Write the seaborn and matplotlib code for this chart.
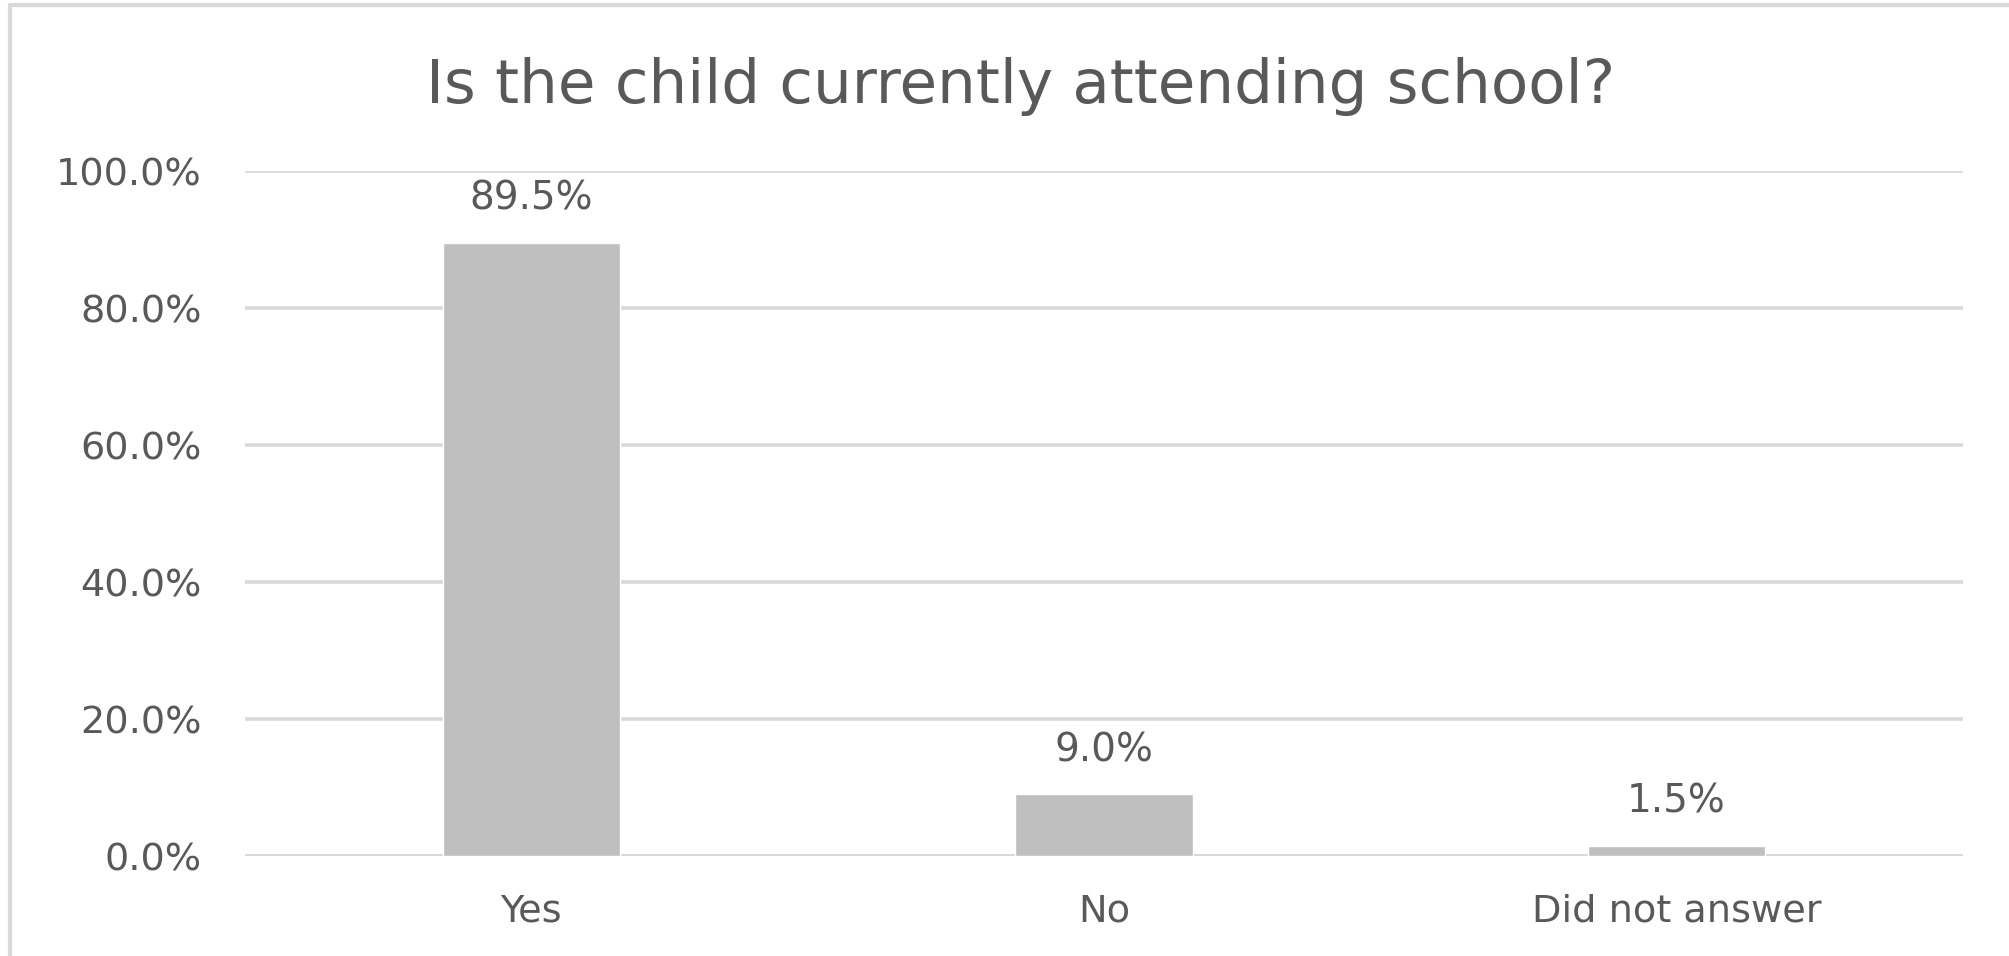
import matplotlib
matplotlib.use("Agg")
import matplotlib.pyplot as plt
import seaborn as sns
import pandas as pd
from matplotlib.lines import Line2D
from matplotlib.ticker import FuncFormatter

# chart data
categories = ["Yes", "No", "Did not answer"]
shares = [89.5, 9.0, 1.5]
y_ticks = [0, 20, 40, 60, 80, 100]

title = "Is the child currently attending school?"

text_grey = "#595959"
bar_grey = "#BFBFBF"
grid_grey = "#D9D9D9"

sns.set_style("white")
plt.rcParams['font.family'] = ['DejaVu Sans']

df = pd.DataFrame({"answer": categories, "share": shares})

fig = plt.figure(figsize=(20.09, 9.56), dpi=100)
ax = fig.add_axes([0.122, 0.1046, 0.855, 0.7165])

sns.barplot(data=df, x="answer", y="share", color=bar_grey, width=0.31,
            saturation=1, ax=ax, zorder=3)

ax.set_xlim(-0.5, 2.5)
ax.set_ylim(0, 100)
ax.set_yticks(y_ticks)
ax.yaxis.set_major_formatter(FuncFormatter(lambda v, p: f"{v:.1f}%"))
ax.yaxis.grid(True, color=grid_grey, linewidth=2.6, zorder=0)
ax.set_axisbelow(True)
ax.axhline(0, color=grid_grey, linewidth=2.6, zorder=2)
for s in ax.spines.values():
    s.set_visible(False)
ax.tick_params(axis="y", length=0, pad=31, labelsize=27.5, labelcolor=text_grey)
ax.tick_params(axis="x", length=0, pad=27, labelsize=27.5, labelcolor=text_grey)
ax.set_xlabel("")
ax.set_ylabel("")

# value labels above bars
for i, v in enumerate(shares):
    ax.annotate(f"{v:.1f}%", (i, v), xytext=(0, 18), textcoords="offset points",
                ha="center", va="bottom", fontsize=28, color=text_grey)

fig.text(0.508, 0.909, title, ha="center", va="center", fontsize=44, color=text_grey)

# chart border (only left and top visible)
fig.lines.append(Line2D([0.005, 0.005], [0, 0.9948], transform=fig.transFigure,
                        color=grid_grey, linewidth=3))
fig.lines.append(Line2D([0.005, 1], [0.9948, 0.9948], transform=fig.transFigure,
                        color=grid_grey, linewidth=3))

fig.savefig("out.png", dpi=100)
